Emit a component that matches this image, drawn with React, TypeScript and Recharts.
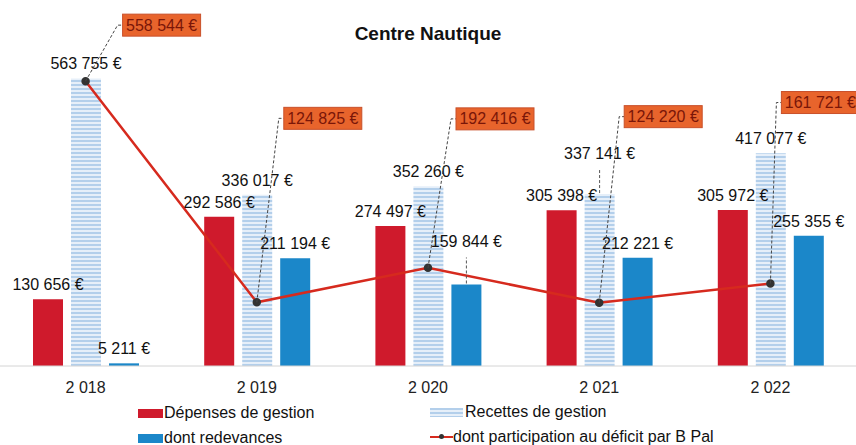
import React from 'react';
import { ComposedChart, Bar, Line, XAxis, YAxis, LabelList } from 'recharts';

const years = ['2 018', '2 019', '2 020', '2 021', '2 022'];
const depenses = [130656, 292586, 274497, 305398, 305972];
const recettes = [563755, 336017, 352260, 337141, 417077];
const redevances = [5211, 211194, 159844, 212221, 255355];
const participation = [558544, 124825, 192416, 124220, 161721];

const data = years.map((year, i) => ({
  year,
  depenses: depenses[i],
  recettes: recettes[i],
  redevances: redevances[i],
  participation: participation[i],
}));

// where each orange callout box sits, relative to its point
const CALLOUT_OFFSETS = [
  { dx: 37, dy: -56 },
  { dx: 27, dy: -184 },
  { dx: 28, dy: -149 },
  { dx: 25, dy: -186 },
  { dx: 11, dy: -181 },
];

// extra lift for a few value labels moved up (with a leader) to clear the line
const NO_LIFT = [0, 0, 0, 0, 0];
const RECETTES_LIFT = [0, 0, 0, 26, 0];
const REDEVANCES_LIFT = [0, 0, 28, 0, 0];

const fmt = (v: any) =>
  String(v).replace(/\B(?=(\d{3})+(?!\d))/g, ' ') + ' €';

const Callout = (props: any) => {
  const { x, y, value, index } = props;
  const o = CALLOUT_OFFSETS[index] || { dx: 20, dy: -60 };
  const bx = x + o.dx;
  const cy = y + o.dy;
  return (
    <g>
      <polyline
        points={`${x},${y} ${bx - 5},${cy} ${bx},${cy}`}
        fill="none"
        stroke="#444"
        strokeWidth={1}
        strokeDasharray="3 2"
      />
      <rect x={bx} y={cy - 11} width={78} height={22} fill="#e8642c" stroke="#c9502a" />
      <text
        x={bx + 39}
        y={cy}
        textAnchor="middle"
        dominantBaseline="central"
        fontSize={16}
        fill="#7a1608"
      >
        {fmt(value)}
      </text>
    </g>
  );
};

const valueLabel = (lift: number[]) => (props: any) => {
  const { x, y, width, value, index } = props;
  const up = lift[index] || 0;
  const cx = x + width / 2;
  return (
    <g>
      {up > 0 && (
        <line
          x1={cx}
          y1={y - 1}
          x2={cx}
          y2={y - up + 1}
          stroke="#555"
          strokeWidth={1}
          strokeDasharray="3 2"
        />
      )}
      <text x={cx} y={y - 9 - up} textAnchor="middle" fontSize={16} fill="#111">
        {fmt(value)}
      </text>
    </g>
  );
};

const legendRow = {
  position: 'absolute' as const,
  fontSize: 16,
  color: '#111',
  display: 'flex',
  alignItems: 'center',
};

const App = () => {
  return (
    <div
      style={{
        position: 'absolute',
        left: 0,
        top: 0,
        width: 856,
        height: 445,
        background: '#fff',
        overflow: 'hidden',
        fontFamily: '"Liberation Sans", Arial, sans-serif',
      }}
    >
      <div
        style={{
          position: 'absolute',
          top: 23,
          left: 0,
          width: 856,
          textAlign: 'center',
          fontSize: 19,
          fontWeight: 'bold',
          color: '#111',
        }}
      >
        Centre Nautique
      </div>
      <ComposedChart
        width={856}
        height={445}
        data={data}
        margin={{ top: 60, right: 0, left: 0, bottom: 49 }}
        barSize={30}
        barGap={8}
      >
        <defs>
          <pattern id="stripes" width="4" height="4" patternUnits="userSpaceOnUse">
            <rect width="4" height="4" fill="#e6eff9" />
            <rect width="4" height="2" fill="#b3cfeb" />
          </pattern>
        </defs>
        <XAxis
          dataKey="year"
          height={30}
          tickLine={false}
          axisLine={{ stroke: '#d4d4d4' }}
          tickMargin={10}
          tick={{ fontSize: 16, fill: '#222' }}
        />
        <YAxis hide domain={[0, 600000]} />
        <Bar dataKey="depenses" fill="#cf1a2c" isAnimationActive={false}>
          <LabelList dataKey="depenses" content={valueLabel(NO_LIFT)} />
        </Bar>
        <Bar dataKey="recettes" fill="url(#stripes)" isAnimationActive={false}>
          <LabelList dataKey="recettes" content={valueLabel(RECETTES_LIFT)} />
        </Bar>
        <Bar dataKey="redevances" fill="#1b87c9" isAnimationActive={false}>
          <LabelList dataKey="redevances" content={valueLabel(REDEVANCES_LIFT)} />
        </Bar>
        <Line
          dataKey="participation"
          stroke="#d62a1e"
          strokeWidth={2.5}
          dot={{ r: 3, fill: '#333', stroke: '#333' }}
          label={(p: any) => <Callout {...p} />}
          isAnimationActive={false}
        />
      </ComposedChart>
      <div style={{ ...legendRow, top: 404, left: 138 }}>
        <span style={{ display: 'inline-block', width: 25, height: 9, background: '#cf1a2c', marginRight: 1 }} />
        Dépenses de gestion
      </div>
      <div style={{ ...legendRow, top: 429, left: 138 }}>
        <span style={{ display: 'inline-block', width: 25, height: 9, background: '#1b87c9', marginRight: 1 }} />
        dont redevances
      </div>
      <div style={{ ...legendRow, top: 403, left: 430 }}>
        <span
          style={{
            display: 'inline-block',
            width: 33,
            height: 9,
            background: 'repeating-linear-gradient(#b3cfeb 0 2px, #e6eff9 2px 4px)',
            marginRight: 2,
          }}
        />
        Recettes de gestion
      </div>
      <div style={{ ...legendRow, top: 428, left: 430 }}>
        <span style={{ position: 'relative', display: 'inline-block', width: 23, height: 10 }}>
          <span style={{ position: 'absolute', left: 0, top: 4, width: 23, height: 2, background: '#d62a1e' }} />
          <span style={{ position: 'absolute', left: 9, top: 2, width: 5, height: 5, borderRadius: 3, background: '#333' }} />
        </span>
        dont participation au déficit par B Pal
      </div>
    </div>
  );
};

export default App;
